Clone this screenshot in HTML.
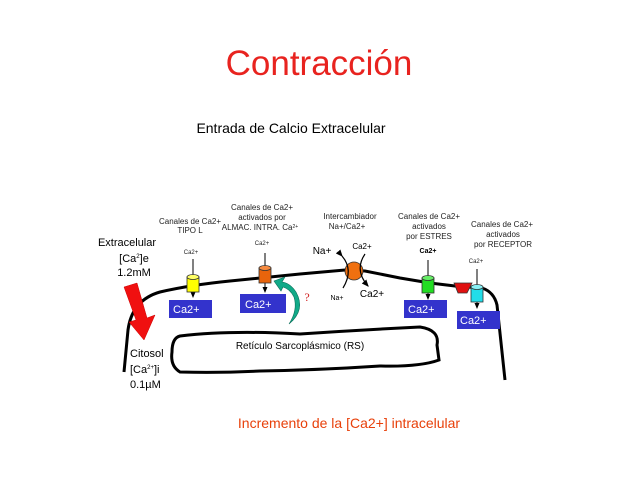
<!DOCTYPE html>
<html><head><meta charset="utf-8"><style>
html,body{margin:0;padding:0;background:#fff;}
svg{display:block;font-family:"Liberation Sans",sans-serif;}
</style></head><body>
<svg width="638" height="479" viewBox="0 0 638 479" xmlns="http://www.w3.org/2000/svg">
<defs>
<marker id="ar" markerWidth="6" markerHeight="6" refX="5" refY="3" orient="auto"><path d="M0,0.5 L6,3 L0,5.5 z" fill="#000"/></marker>
</defs>
<text x="319" y="75" text-anchor="middle" font-size="35" fill="#e8231f">Contracción</text>
<text x="291" y="133" text-anchor="middle" font-size="14" fill="#000">Entrada de Calcio Extracelular</text>

<!-- membrane -->
<path d="M124,372 L128,330 Q132,300 160,292 Q190,285 230,281 L300,274 L345,270 L365,271 L400,278 L430,283 L455,286 L482,288 Q494,292 497,305 L505,380" fill="none" stroke="#000" stroke-width="3"/>
<!-- RS -->
<path d="M180,336 Q230,330 300,334 Q360,330 420,327 Q440,330 437,345 L439,360 Q420,367 380,366 Q320,370 260,371 Q220,373 180,372 Q170,366 172,352 Q172,338 180,336 z" fill="none" stroke="#000" stroke-width="3"/>
<text x="300" y="349" text-anchor="middle" font-size="10">Retículo Sarcoplásmico (RS)</text>

<!-- red arrow -->
<path d="M124,287 L137,283 L147,318 L155,315 L144,340 L129,322 L136,320 z" fill="#f01010" stroke="#c00" stroke-width="0.5"/>

<text x="127" y="246" text-anchor="middle" font-size="11">Extracelular</text>
<text x="134" y="262" text-anchor="middle" font-size="11">[Ca<tspan font-size="6" dy="-4">2</tspan><tspan dy="4">]e</tspan></text>
<text x="134" y="276" text-anchor="middle" font-size="11">1.2mM</text>
<text x="130" y="357" font-size="11">Citosol</text>
<text x="130" y="373" font-size="11">[Ca<tspan font-size="6" dy="-4">2+</tspan><tspan dy="4">]i</tspan></text>
<text x="130" y="388" font-size="11">0.1µM</text>

<!-- labels top -->
<g font-size="8" text-anchor="middle" fill="#222">
<text x="190" y="224">Canales de Ca2+</text><text x="190" y="233">TIPO L</text>
<text x="262" y="210">Canales de Ca2+</text><text x="262" y="220">activados por</text><text x="260" y="230">ALMAC. INTRA. Ca<tspan font-size="5" dy="-2">2+</tspan></text>
<text x="350" y="219">Intercambiador</text><text x="347" y="229">Na+/Ca2+</text>
<text x="429" y="219">Canales de Ca2+</text><text x="429" y="229">activados</text><text x="429" y="239">por  ESTRES</text>
<text x="502" y="227">Canales de Ca2+</text><text x="503" y="237">activados</text><text x="503" y="247">por RECEPTOR</text>
</g>
<g font-size="6" text-anchor="middle" fill="#222">
<text x="191" y="254">Ca2+</text><text x="262" y="245">Ca2+</text><text x="476" y="263">Ca2+</text>
</g>
<text x="428" y="253" font-size="7" font-weight="bold" text-anchor="middle">Ca2+</text>

<!-- arrows into channels -->
<g stroke="#000" stroke-width="1" marker-end="url(#ar)">
<line x1="193" y1="259" x2="193" y2="297"/>
<line x1="265" y1="253" x2="265" y2="292"/>
<line x1="428" y1="260" x2="428" y2="299"/>
<line x1="477" y1="269" x2="477" y2="308"/>
</g>
<!-- channels -->
<g stroke="#333" stroke-width="0.8">
<rect x="187" y="277" width="12" height="15" fill="#ffff00"/><ellipse cx="193" cy="277" rx="6" ry="2.5" fill="#ffff66"/>
<rect x="259" y="268" width="12" height="15" fill="#e8640c"/><ellipse cx="265" cy="268" rx="6" ry="2.5" fill="#f58a40"/>
<rect x="422" y="278" width="12" height="15" fill="#22dd22"/><ellipse cx="428" cy="278" rx="6" ry="2.5" fill="#66ee66"/>
<rect x="471" y="287" width="12" height="15" fill="#22dde8"/><ellipse cx="477" cy="287" rx="6" ry="2.5" fill="#88f0f5"/>
<path d="M454,283 L472,283 L467,293 L458,293 z" fill="#e01010"/>
</g>
<!-- exchanger -->
<circle cx="354" cy="271" r="9" fill="#f07010" stroke="#333" stroke-width="0.8"/>
<path d="M342,256 Q354,270 343,288" fill="none" stroke="#000" stroke-width="1.2" marker-start="url(#ar)"/>
<path d="M365,254 Q354,270 368,286" fill="none" stroke="#000" stroke-width="1.2" marker-end="url(#ar)"/>
<text x="322" y="254" text-anchor="middle" font-size="10">Na+</text>
<text x="362" y="249" text-anchor="middle" font-size="8">Ca2+</text>
<text x="337" y="300" text-anchor="middle" font-size="7">Na+</text>
<text x="372" y="297" text-anchor="middle" font-size="10">Ca2+</text>

<!-- blue boxes -->
<g fill="#3333cc"><rect x="169" y="300" width="43" height="18"/><rect x="240" y="294" width="46" height="19"/><rect x="404" y="300" width="43" height="18"/><rect x="457" y="311" width="43" height="18"/></g>
<g fill="#fff" font-size="11"><text x="173" y="313">Ca2+</text><text x="245" y="308">Ca2+</text><text x="408" y="313">Ca2+</text><text x="460" y="324">Ca2+</text></g>

<!-- green curved arrow -->
<path d="M289,324 Q306,310 296,292 Q290,283 282,282 L285,277 L274,281 L281,291 L283,287 Q290,289 294,297 Q298,310 289,324 z" fill="#11aa88" stroke="#0a6e58" stroke-width="0.6"/>
<text x="307" y="301" text-anchor="middle" font-size="12" fill="#d02020" font-family="Liberation Serif,serif">?</text>

<text x="349" y="428" text-anchor="middle" font-size="14" fill="#e8400a">Incremento de la [Ca2+] intracelular</text>
</svg>
</body></html>
